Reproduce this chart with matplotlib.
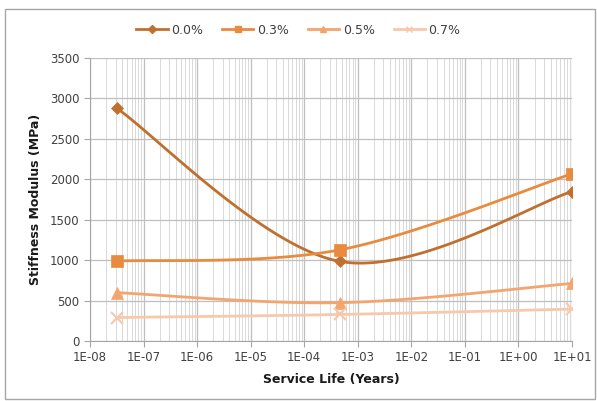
import numpy as np
import matplotlib
matplotlib.use("Agg")
import matplotlib.pyplot as plt
from matplotlib.patches import Rectangle
from matplotlib.ticker import LogLocator, NullFormatter

years = [3.17e-08, 4.6e-04, 1.0e+01]
series_names = ["0.0%", "0.3%", "0.5%", "0.7%"]
s00 = [2878, 985, 1848]
s03 = [988, 1127, 2068]
s05 = [598, 474, 712]
s07 = [290, 328, 395]
tick_labels = ["1E-08", "1E-07", "1E-06", "1E-05", "1E-04", "1E-03", "1E-02", "1E-01", "1E+00", "1E+01"]

colors = ["#C0702E", "#E98B3E", "#F4A56E", "#F8C8AB"]
markers = ["D", "s", "^", "x"]
msizes = [6, 8, 8, 8]


def smooth(xs, ys, n=60):
    lx = np.log10(xs)
    P = np.column_stack([lx, np.asarray(ys, float)])
    m = len(P)
    out = []
    for i in range(m - 1):
        p0 = P[max(i - 1, 0)]
        p1 = P[i]
        p2 = P[i + 1]
        p3 = P[min(i + 2, m - 1)]
        c1 = p1 + (p2 - p0) / 6.0
        c2 = p2 - (p3 - p1) / 6.0
        t = np.linspace(0, 1, n)[:, None]
        b = ((1 - t) ** 3) * p1 + 3 * ((1 - t) ** 2) * t * c1 + 3 * (1 - t) * t ** 2 * c2 + t ** 3 * p2
        out.append(b if i == 0 else b[1:])
    B = np.vstack(out)
    return 10 ** B[:, 0], B[:, 1]


plt.rcParams['font.family'] = ['DejaVu Sans']
fig = plt.figure(figsize=(5.97, 4.01), dpi=100)
ax = fig.add_axes([90 / 597, 1 - 341 / 401, (572 - 90) / 597, (341 - 58) / 401])

fig.patches.append(Rectangle((5 / 597, 2 / 401), 590 / 597, 390 / 401, transform=fig.transFigure,
                             fill=False, edgecolor="#A6A6A6", linewidth=1.0))

all_series = [s00, s03, s05, s07]
for name, ys, c, mk, ms in zip(series_names, all_series, colors, markers, msizes):
    sx, sy = smooth(years, ys)
    ax.plot(sx, sy, color=c, linewidth=2.0, zorder=3)
    ax.plot(years, ys, linestyle="none", marker=mk, color=c, markersize=ms,
            markeredgewidth=1.5 if mk == "x" else 0.5, zorder=4)
    ax.plot([], [], color=c, linewidth=2.0, marker=mk, markersize=4, label=name)

ax.set_xscale("log")
ax.set_xlim(1e-8, 1e1)
ax.set_ylim(0, 3500)
ax.set_xticks([10.0 ** k for k in range(-8, 2)])
ax.set_xticklabels(tick_labels)
ax.xaxis.set_minor_locator(LogLocator(base=10, subs=np.arange(2, 10), numticks=200))
ax.xaxis.set_minor_formatter(NullFormatter())
ax.set_yticks(range(0, 3501, 500))
ax.tick_params(axis="both", labelsize=8.5, colors="#404040", length=4, color="#A6A6A6")
ax.tick_params(axis="x", which="minor", length=0)
ax.grid(True, which="major", axis="both", color="#BFBFBF", linewidth=0.9)
ax.grid(True, which="minor", axis="x", color="#D9D9D9", linewidth=0.7)
ax.set_axisbelow(True)
for s in ["top", "right"]:
    ax.spines[s].set_visible(False)
for s in ["left", "bottom"]:
    ax.spines[s].set_color("#A6A6A6")

ax.set_xlabel("Service Life (Years)", fontsize=9, fontweight="bold", color="#1A1A1A", labelpad=6)
ax.set_ylabel("Stiffness Modulus (MPa)", fontsize=9, fontweight="bold", color="#1A1A1A", labelpad=6)

leg = fig.legend(loc="center", bbox_to_anchor=(0.5, 1 - 30 / 401), ncol=4, frameon=False,
                 fontsize=9, handlelength=2.5, columnspacing=1.5, handletextpad=0.3)
for t in leg.get_texts():
    t.set_color("#404040")

fig.savefig("out.png", dpi=100)
